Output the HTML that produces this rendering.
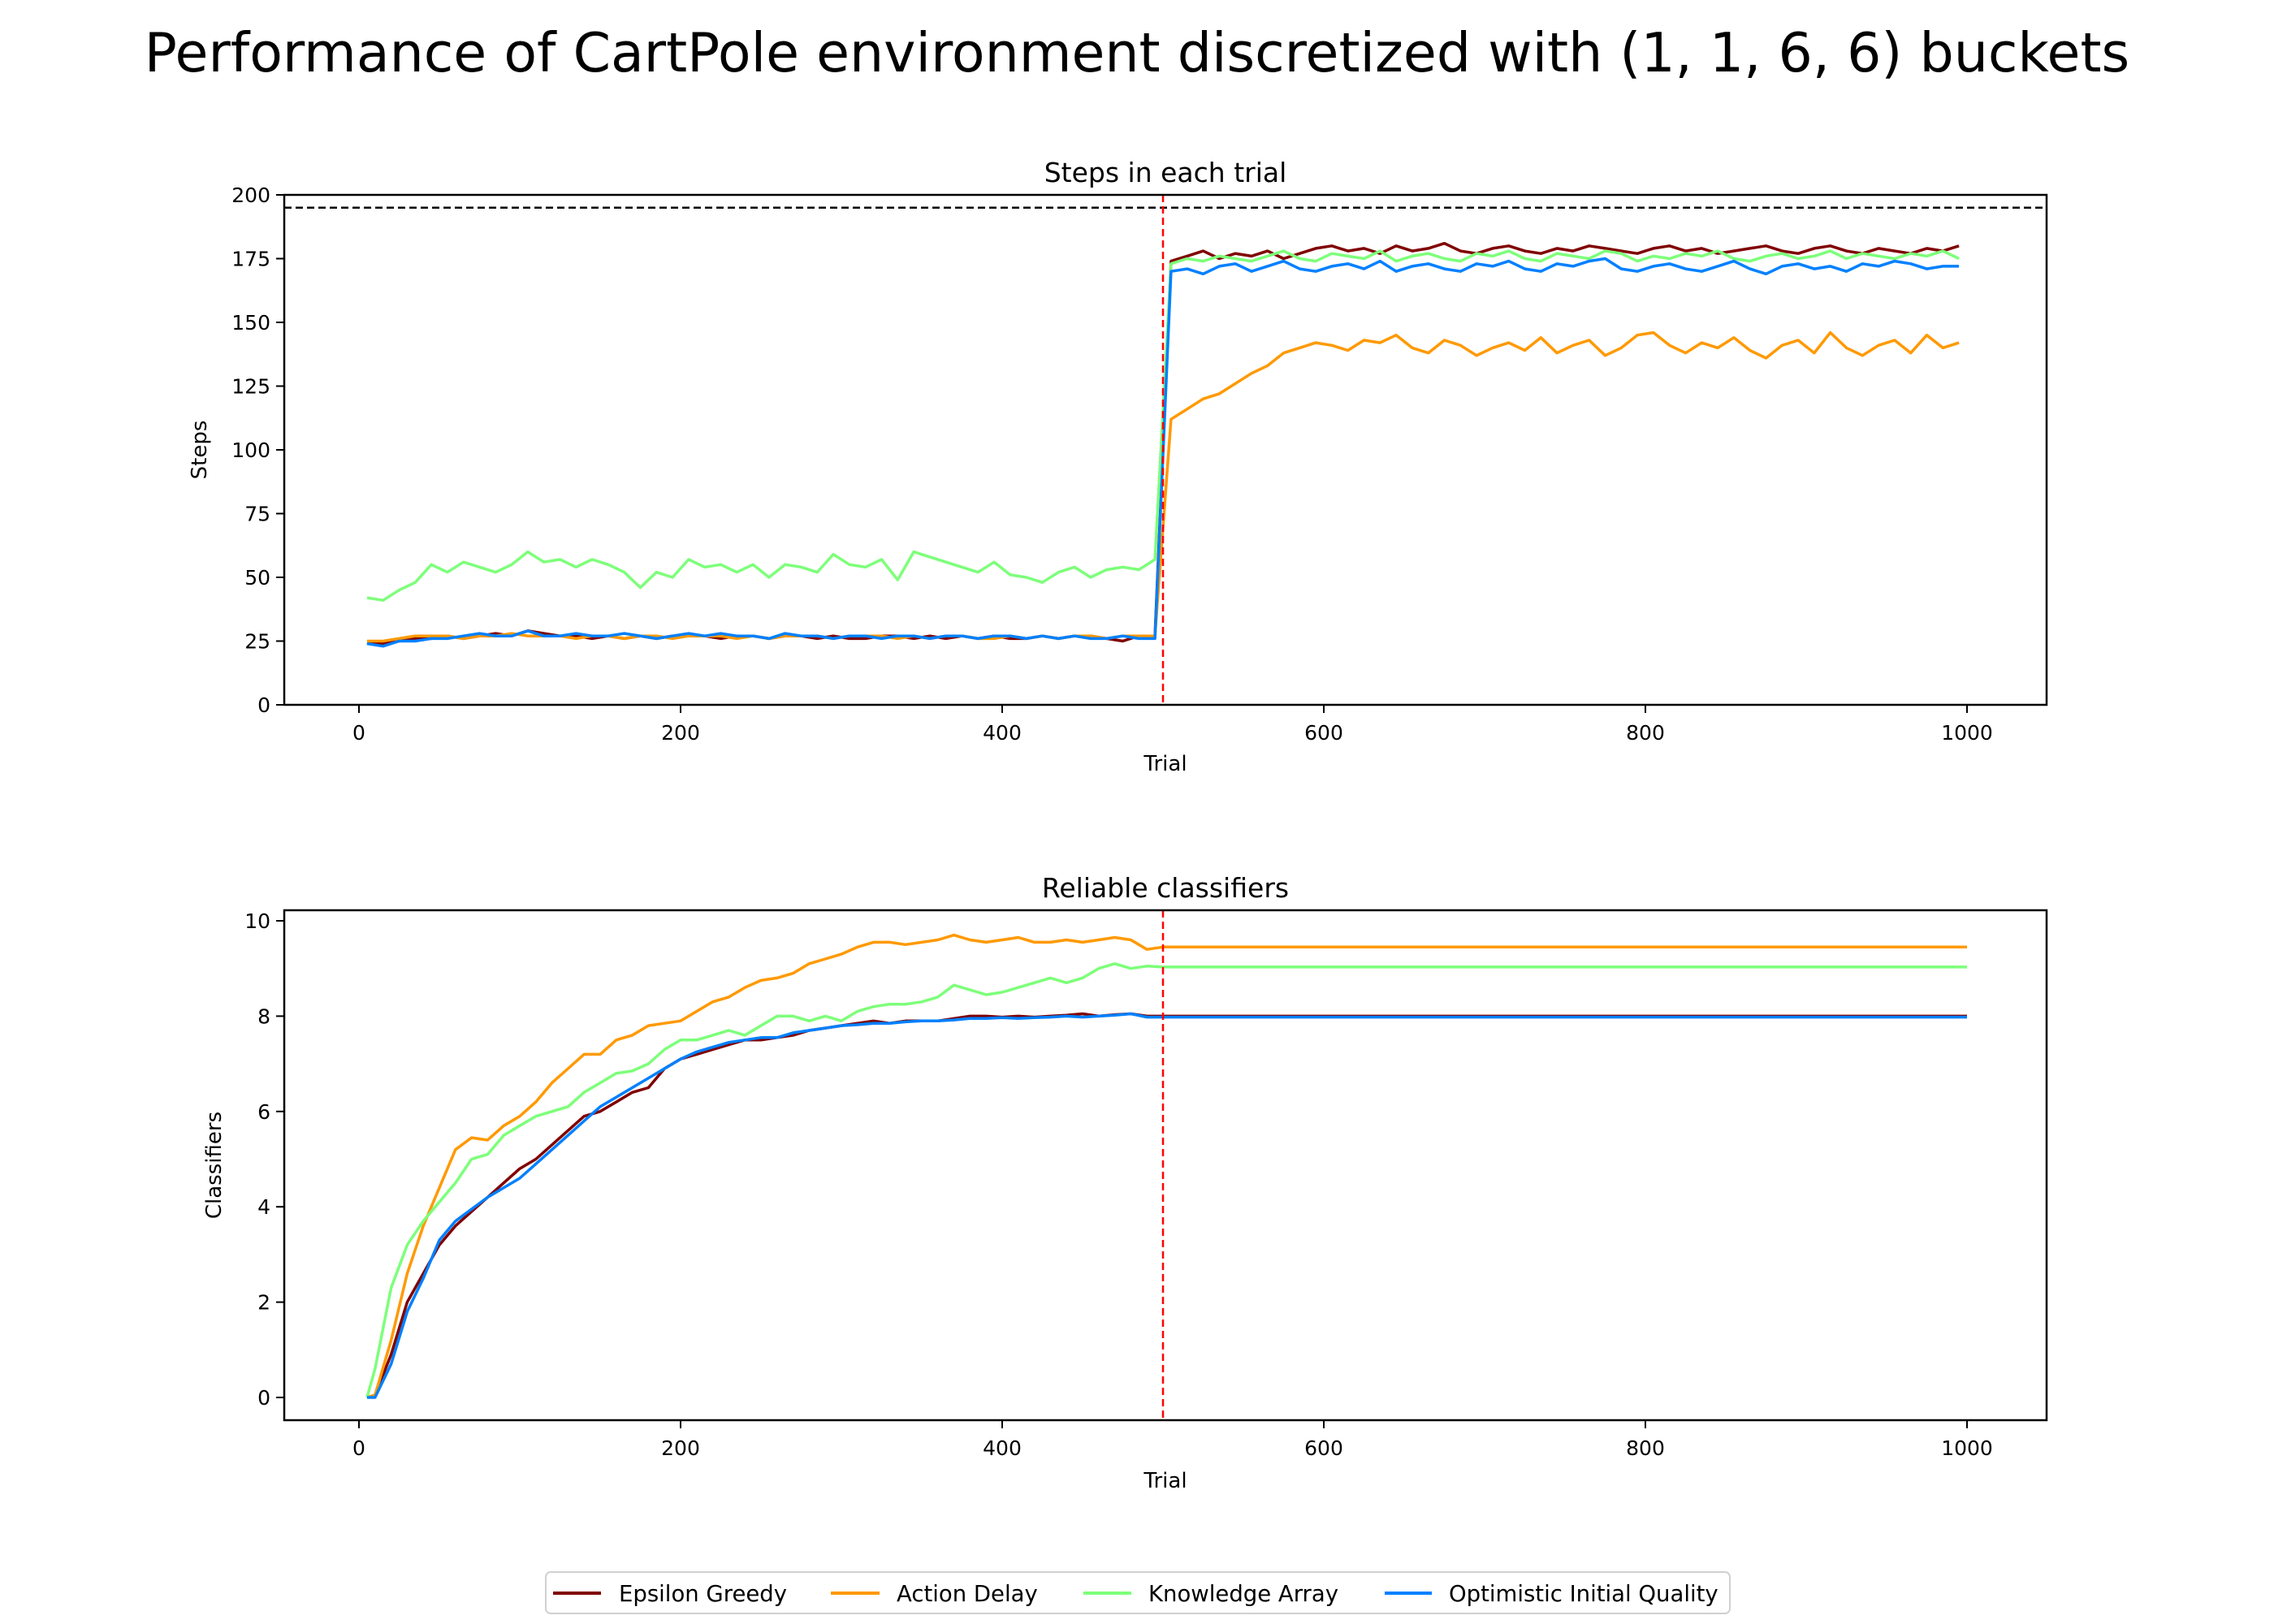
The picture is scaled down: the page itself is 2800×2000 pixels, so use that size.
<!DOCTYPE html>
<html><head><meta charset="utf-8"><style>
html,body{margin:0;padding:0;background:#fff;}
svg{display:block;font-family:"DejaVu Sans","Liberation Sans",sans-serif;}
</style></head><body>
<svg id="fig" width="2800" height="2000" viewBox="0 0 2800 2000" xmlns="http://www.w3.org/2000/svg">
<rect width="2800" height="2000" fill="#fff"/>
<text x="1400" y="88" font-size="66.5" text-anchor="middle">Performance of CartPole environment discretized with (1, 1, 6, 6) buckets</text>
<g id="top"></g>
<g id="bot"></g>
<g>
<rect x="672" y="1936" width="1458" height="51" rx="6" fill="#fff" stroke="#d0d0d0" stroke-width="2"/>
<line x1="681" y1="1962" x2="740" y2="1962" stroke="#800000" stroke-width="4"/>
<text x="762" y="1972" font-size="27.5">Epsilon Greedy</text>
<line x1="1023" y1="1962" x2="1083" y2="1962" stroke="#ff9900" stroke-width="4"/>
<text x="1104" y="1972" font-size="27.5">Action Delay</text>
<line x1="1334" y1="1962" x2="1393" y2="1962" stroke="#7dff7a" stroke-width="4"/>
<text x="1414" y="1972" font-size="27.5">Knowledge Array</text>
<line x1="1705" y1="1962" x2="1763" y2="1962" stroke="#0080ff" stroke-width="4"/>
<text x="1784" y="1972" font-size="27.5">Optimistic Initial Quality</text>
</g>
</svg>
<script>
const seriesNames = ["Epsilon Greedy","Action Delay","Knowledge Array","Optimistic Initial Quality"];
const seriesColors = ["#800000","#ff9900","#7dff7a","#0080ff"];
const topYTicks = [0,25,50,75,100,125,150,175,200];
const botYTicks = [0,2,4,6,8,10];
const xTicks = [0,200,400,600,800,1000];
const stepsEG = [24,24,25,26,26,27,26,27,28,27,29,28,27,27,26,27,26,27,26,27,27,27,26,27,27,26,27,27,26,27,26,26,27,27,26,27,26,27,26,27,26,26,27,26,27,27,26,25,27,27,
174,176,178,175,177,176,178,175,177,179,180,178,179,177,180,178,179,181,178,177,179,180,178,177,179,178,180,179,178,177,179,180,178,179,177,178,179,180,178,177,179,180,178,177,179,178,177,179,178,180];
const stepsAD = [25,25,26,27,27,27,26,27,27,28,27,27,27,26,27,27,26,27,27,26,27,27,27,26,27,26,27,27,27,26,27,27,27,26,27,26,27,27,26,26,27,26,27,26,27,27,26,27,27,27,
112,116,120,122,126,130,133,138,140,142,141,139,143,142,145,140,138,143,141,137,140,142,139,144,138,141,143,137,140,145,146,141,138,142,140,144,139,136,141,143,138,146,140,137,141,143,138,145,140,142];
const stepsKA = [42,41,45,48,55,52,56,54,52,55,60,56,57,54,57,55,52,46,52,50,57,54,55,52,55,50,55,54,52,59,55,54,57,49,60,58,56,54,52,56,51,50,48,52,54,50,53,54,53,57,
173,175,174,176,175,174,176,178,175,174,177,176,175,178,174,176,177,175,174,177,176,178,175,174,177,176,175,178,177,174,176,175,177,176,178,175,174,176,177,175,176,178,175,177,176,175,177,176,178,175];
const stepsOIQ = [24,23,25,25,26,26,27,28,27,27,29,27,27,28,27,27,28,27,26,27,28,27,28,27,27,26,28,27,27,26,27,27,26,27,27,26,27,27,26,27,27,26,27,26,27,26,26,27,26,26,
170,171,169,172,173,170,172,174,171,170,172,173,171,174,170,172,173,171,170,173,172,174,171,170,173,172,174,175,171,170,172,173,171,170,172,174,171,169,172,173,171,172,170,173,172,174,173,171,172,172];
const clsEG = [0,0.05,0.9,2.0,2.6,3.2,3.6,3.9,4.2,4.5,4.8,5.0,5.3,5.6,5.9,6.0,6.2,6.4,6.5,6.9,7.1,7.2,7.3,7.4,7.5,7.5,7.55,7.6,7.7,7.75,7.8,7.85,7.9,7.85,7.9,7.9,7.9,7.95,8.0,8.0,7.98,8.0,7.98,8.0,8.02,8.05,8.0,8.03,8.05,8.0,8.0,8.0];
const clsAD = [0,0.05,1.2,2.6,3.6,4.4,5.2,5.45,5.4,5.7,5.9,6.2,6.6,6.9,7.2,7.2,7.5,7.6,7.8,7.85,7.9,8.1,8.3,8.4,8.6,8.75,8.8,8.9,9.1,9.2,9.3,9.45,9.55,9.55,9.5,9.55,9.6,9.7,9.6,9.55,9.6,9.65,9.55,9.55,9.6,9.55,9.6,9.65,9.6,9.4,9.45,9.45];
const clsKA = [0,0.6,2.3,3.2,3.7,4.1,4.5,5.0,5.1,5.5,5.7,5.9,6.0,6.1,6.4,6.6,6.8,6.85,7.0,7.3,7.5,7.5,7.6,7.7,7.6,7.8,8.0,8.0,7.9,8.0,7.9,8.1,8.2,8.25,8.25,8.3,8.4,8.65,8.55,8.45,8.5,8.6,8.7,8.8,8.7,8.8,9.0,9.1,9.0,9.05,9.03,9.03];
const clsOIQ = [0,0,0.7,1.8,2.5,3.3,3.7,3.95,4.2,4.4,4.6,4.9,5.2,5.5,5.8,6.1,6.3,6.5,6.7,6.9,7.1,7.25,7.35,7.45,7.5,7.55,7.55,7.65,7.7,7.75,7.8,7.82,7.85,7.85,7.88,7.9,7.9,7.92,7.95,7.95,7.97,7.95,7.97,7.98,8.0,7.98,8.0,8.02,8.05,7.98,7.98,7.98];
const topTrials = [];
for (let i = 0; i < 100; i++) topTrials.push(5 + 10 * i);
const botTrials = [5];
for (let i = 1; i <= 50; i++) botTrials.push(10 * i);
botTrials.push(1000);

const NS = "http://www.w3.org/2000/svg";
const L = 350, R = 2520;
const xs = t => 442 + 1.98 * t;
function mk(parent, tag, attrs, txt) {
  const e = document.createElementNS(NS, tag);
  for (const k in attrs) e.setAttribute(k, attrs[k]);
  if (txt !== undefined) e.textContent = txt;
  parent.appendChild(e);
  return e;
}
function drawAxes(g, top, bottom, ys, yTicks, title, ylabel, ylx, xlabY) {
  const t = mk(g, "text", {x: (L + R) / 2, y: top - 16, "font-size": 33, "text-anchor": "middle"}, title);
  
  
  yTicks.forEach(v => {
    const y = ys(v);
    mk(g, "line", {x1: L - 10, x2: L, y1: y, y2: y, stroke: "#000", "stroke-width": 2});
    const lb = mk(g, "text", {x: L - 17, y: y + 9, "font-size": 25, "text-anchor": "end"}, String(v));
    
    
  });
  xTicks.forEach(v => {
    const x = xs(v);
    mk(g, "line", {x1: x, x2: x, y1: bottom, y2: bottom + 10, stroke: "#000", "stroke-width": 2});
    const lb = mk(g, "text", {x: x, y: bottom + 43, "font-size": 25, "text-anchor": "middle"}, String(v));
    
    
  });
  const xl = mk(g, "text", {x: (L + R) / 2, y: xlabY, "font-size": 26, "text-anchor": "middle"}, "Trial");
  
  
  const cy = (top + bottom) / 2;
  const yl = mk(g, "text", {x: ylx, y: cy, "font-size": 26, "text-anchor": "middle", transform: `rotate(-90 ${ylx} ${cy})`}, ylabel);
  
  
}
function drawSeries(g, trials, vals, ys, color, name) {
  const d = vals.map((v, i) => (i ? "L" : "M") + xs(trials[i]).toFixed(1) + "," + ys(v).toFixed(1)).join("");
  const p = mk(g, "path", {d: d, fill: "none", stroke: color, "stroke-width": 3.5, "stroke-linejoin": "round"});
  
  
}
(function () {
  const g = document.getElementById("top");
  const top = 240, bottom = 868;
  const ys = v => bottom - (v / 200) * (bottom - top);
  drawAxes(g, top, bottom, ys, topYTicks, "Steps in each trial", "Steps", 254, 949);
  const th = mk(g, "line", {x1: L, x2: R, y1: ys(195), y2: ys(195), stroke: "#000", "stroke-width": 2.5, "stroke-dasharray": "9,5"});
  
  
  [stepsEG, stepsAD, stepsKA, stepsOIQ].forEach((s, i) => drawSeries(g, topTrials, s, ys, seriesColors[i], "steps-" + seriesNames[i].toLowerCase().replace(/ /g, "-")));
  const vl = mk(g, "line", {x1: xs(500), x2: xs(500), y1: top, y2: bottom, stroke: "#ff0000", "stroke-width": 2.5, "stroke-dasharray": "9,5"});
  
  
  mk(g, "rect", {x: L, y: top, width: R - L, height: bottom - top, fill: "none", stroke: "#000", "stroke-width": 2.5});
})();
(function () {
  const g = document.getElementById("bot");
  const top = 1121, bottom = 1749;
  const ys = v => 1721 - 58.7 * v;
  drawAxes(g, top, bottom, ys, botYTicks, "Reliable classifiers", "Classifiers", 272, 1832);
  [clsEG, clsAD, clsKA, clsOIQ].forEach((s, i) => drawSeries(g, botTrials, s, ys, seriesColors[i], "classifiers-" + seriesNames[i].toLowerCase().replace(/ /g, "-")));
  const vl = mk(g, "line", {x1: xs(500), x2: xs(500), y1: top, y2: bottom, stroke: "#ff0000", "stroke-width": 2.5, "stroke-dasharray": "9,5"});
  
  
  mk(g, "rect", {x: L, y: top, width: R - L, height: bottom - top, fill: "none", stroke: "#000", "stroke-width": 2.5});
})();
</script>
</body></html>
